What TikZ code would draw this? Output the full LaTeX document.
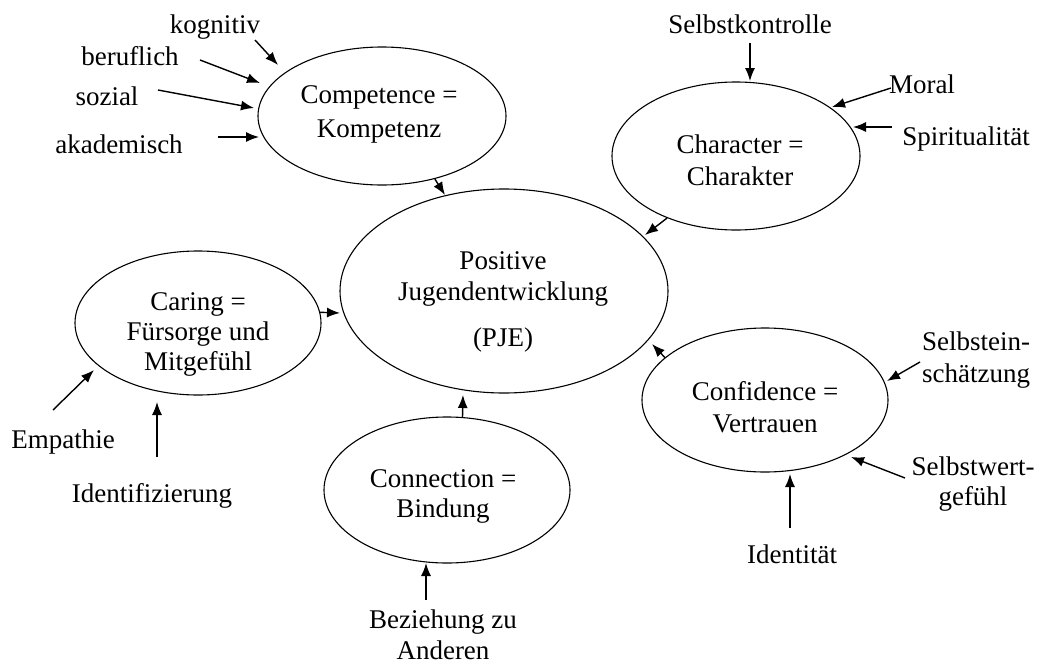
\documentclass[tikz,border=0pt]{standalone}
\usepackage{fontspec}
\setmainfont{Liberation Serif}
\usetikzlibrary{arrows.meta,shapes.geometric}
\begin{document}
\begin{tikzpicture}[x=1pt,y=-1pt,
  oval/.style={draw,ellipse,line width=1.1pt,inner sep=0pt},
  txt/.style={font=\fontsize{27}{32}\selectfont,anchor=base,inner sep=0pt},
  arr/.style={line width=1.4pt,-{Latex[length=13pt,width=10pt]}}]
\useasboundingbox (0,0) rectangle (1037,667);
% ellipses
\node[oval,minimum width=248pt,minimum height=138pt] (comp) at (382,116) {};
\node[oval,minimum width=248pt,minimum height=148pt] (char) at (736,156) {};
\node[oval,minimum width=328pt,minimum height=204pt] (pje) at (504,291) {};
\node[oval,minimum width=246pt,minimum height=144pt] (car) at (198,323) {};
\node[oval,minimum width=246pt,minimum height=146pt] (con) at (447,490) {};
\node[oval,minimum width=246pt,minimum height=144pt] (conf) at (765,400) {};
% ellipse texts
\node[txt] (compt1) at (379,103) {Competence =};
\node[txt] (compt2) at (379,137) {Kompetenz};
\node[txt] (chart1) at (740,153) {Character =};
\node[txt] (chart2) at (740,185) {Charakter};
\node[txt] (pjet1) at (503,269) {Positive};
\node[txt] (pjet2) at (503,300) {Jugendentwicklung};
\node[txt] (pjet3) at (503,346) {(PJE)};
\node[txt] (cart1) at (198,310) {Caring =};
\node[txt] (cart2) at (198,340) {Fürsorge und};
\node[txt] (cart3) at (198,370) {Mitgefühl};
\node[txt] (cont1) at (443,487) {Connection =};
\node[txt] (cont2) at (443,517) {Bindung};
\node[txt] (conft1) at (765,400) {Confidence =};
\node[txt] (conft2) at (765,432) {Vertrauen};
% labels
\node[txt] (kog) at (215,33) {kognitiv};
\node[txt] (ber) at (130,65) {beruflich};
\node[txt] (soz) at (107,105) {sozial};
\node[txt] (aka) at (119,153) {akademisch};
\node[txt] (sk) at (750,33) {Selbstkontrolle};
\node[txt] (mor) at (922,93) {Moral};
\node[txt] (spi) at (966,145) {Spiritualität};
\node[txt] (emp) at (63,448) {Empathie};
\node[txt] (ide) at (152,502) {Identifizierung};
\node[txt] (bez1) at (443,628) {Beziehung zu};
\node[txt] (bez2) at (443,659) {Anderen};
\node[txt] (sein1) at (976,350) {Selbstein-};
\node[txt] (sein2) at (976,382) {schätzung};
\node[txt] (swert1) at (973,475) {Selbstwert-};
\node[txt] (swert2) at (973,505) {gefühl};
\node[txt] (idt) at (792,563) {Identität};
% arrow tails
\coordinate (kogT) at (255,40);
\coordinate (berT) at (200,60);
\coordinate (sozT) at (158,90);
\coordinate (akaT) at (218,137);
\coordinate (skT) at (750,43);
\coordinate (morT) at (891,88);
\coordinate (spiT) at (892,127);
\coordinate (empT) at (53,410);
\coordinate (ideT) at (157,457);
\coordinate (bezT) at (426,600);
\coordinate (seinT) at (920,362);
\coordinate (swertT) at (905,478);
\coordinate (idtT) at (790,528);
% arrows into satellites
\draw[arr] (kogT) -- (278,65);
\draw[arr] (berT) -- (260,83);
\draw[arr] (sozT) -- (254,108);
\draw[arr] (akaT) -- (259,137);
\draw[arr] (skT) -- (750,81);
\draw[arr] (morT) -- (832,107);
\draw[arr] (spiT) -- (853,127);
\draw[arr] (empT) -- (94,370);
\draw[arr] (ideT) -- (157,402);
\draw[arr] (bezT) -- (426,563);
\draw[arr] (seinT) -- (887,381);
\draw[arr] (swertT) -- (851,457);
\draw[arr] (idtT) -- (790,474);
% arrows into PJE
\draw[arr] (comp.-50) -- (445,195);
\draw[arr] (char.-138) -- (645,235);
\draw[arr] (car.5) -- (340,313);
\draw[arr] (con.78) -- (463,395);
\draw[arr] (conf.157) -- (652,344);
\end{tikzpicture}
\end{document}
